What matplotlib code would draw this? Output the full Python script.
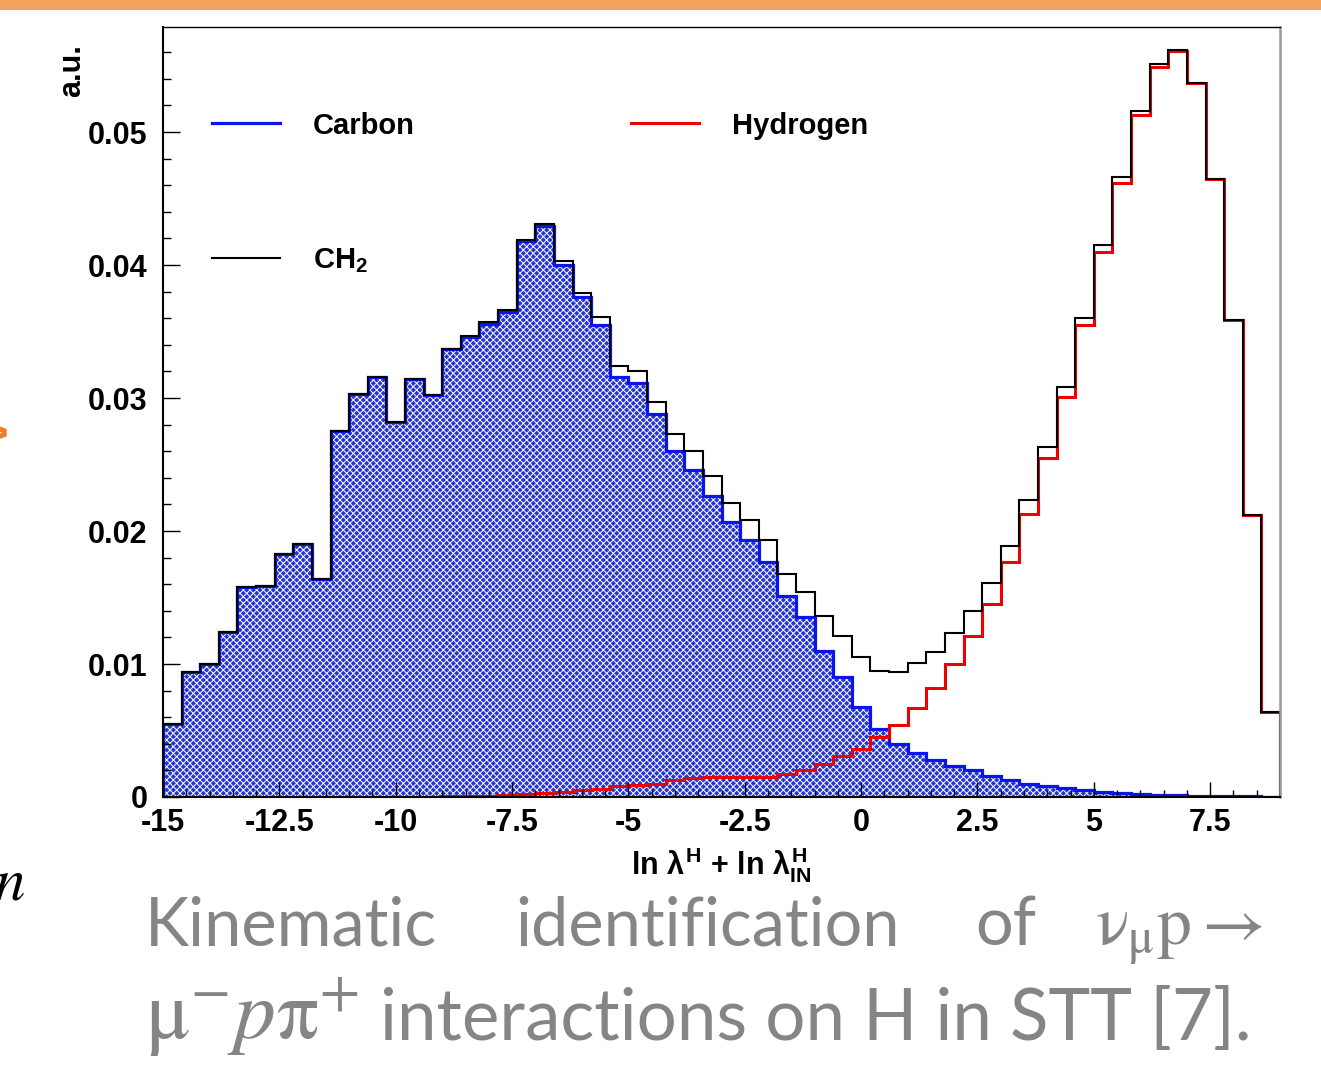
import matplotlib; matplotlib.use("Agg")
import matplotlib.pyplot as plt
import numpy as np
from matplotlib.lines import Line2D
from matplotlib.patches import Rectangle
from matplotlib.ticker import MultipleLocator

plt.rcParams["font.family"] = ["Liberation Sans", "DejaVu Sans"]
plt.rcParams["mathtext.fontset"] = "custom"
plt.rcParams["mathtext.rm"] = "Liberation Sans:bold"
plt.rcParams["mathtext.it"] = "Liberation Sans:bold"
plt.rcParams["mathtext.bf"] = "Liberation Sans:bold"
plt.rcParams["hatch.linewidth"] = 0.7

# 60 bins of width 0.4 from -15 to 9
edges = np.linspace(-15, 9, 61)

carbon = [
    0.0055, 0.0094, 0.0100, 0.0124, 0.0158, 0.0159, 0.0183, 0.0190, 0.0164, 0.0275,
    0.0303, 0.0316, 0.0282, 0.0314, 0.0302, 0.0337, 0.0346, 0.0356, 0.0365, 0.0418,
    0.0429, 0.0400, 0.0376, 0.0355, 0.0316, 0.0311, 0.0288, 0.0260, 0.0246, 0.0226,
    0.0207, 0.0193, 0.0177, 0.0151, 0.0135, 0.0110, 0.0090, 0.0068, 0.0051, 0.0040,
    0.0033, 0.0028, 0.0023, 0.0020, 0.0016, 0.0013, 0.0010, 0.0008, 0.00065, 0.00053,
    0.0004, 0.00033, 0.00025, 0.00018, 0.00012, 0.0001, 0.00008, 0.00006, 0.00004, 0.00003]

hydrogen = [
    0, 0, 0, 0, 0, 0, 0, 0, 0, 0,
    0, 0, 0, 0.00002, 0.00003, 0.00005, 0.00007, 0.0001, 0.00015, 0.0002,
    0.0003, 0.0004, 0.0005, 0.0006, 0.0008, 0.0009, 0.0010, 0.0013, 0.0014, 0.0015,
    0.0015, 0.0015, 0.0015, 0.0017, 0.0020, 0.0025, 0.0031, 0.0036, 0.0045, 0.0054,
    0.0067, 0.0082, 0.0100, 0.0121, 0.0145, 0.0177, 0.0213, 0.0255, 0.0301, 0.0355,
    0.0410, 0.0462, 0.0513, 0.0549, 0.0561, 0.0537, 0.0465, 0.0359, 0.0212, 0.0064]

ch2 = [
    0.0055, 0.0094, 0.0100, 0.0124, 0.0158, 0.0159, 0.0183, 0.0190, 0.0164, 0.0275,
    0.0303, 0.0316, 0.0282, 0.0314, 0.0302, 0.0337, 0.0347, 0.0357, 0.0366, 0.0419,
    0.0431, 0.0403, 0.0379, 0.0361, 0.0324, 0.0320, 0.0297, 0.0273, 0.0260, 0.0241,
    0.0221, 0.0208, 0.0193, 0.0168, 0.0154, 0.0136, 0.0121, 0.0105, 0.0095, 0.0094,
    0.0101, 0.0109, 0.0123, 0.0140, 0.0161, 0.0189, 0.0223, 0.0263, 0.0308, 0.0360,
    0.0415, 0.0466, 0.0516, 0.0551, 0.0562, 0.0537, 0.0465, 0.0359, 0.0212, 0.0064]

xticks = [-15, -12.5, -10, -7.5, -5, -2.5, 0, 2.5, 5, 7.5]
xlabels = ["-15", "-12.5", "-10", "-7.5", "-5", "-2.5", "0", "2.5", "5", "7.5"]
yticks = [0, 0.01, 0.02, 0.03, 0.04, 0.05]
ylabels = ["0", "0.01", "0.02", "0.03", "0.04", "0.05"]

BLUE, RED, GRAY = "#0a14ee", "#ee0000", "#858585"

W, H = 1321, 1070
fig = plt.figure(figsize=(W/100, H/100), dpi=100)
ax = fig.add_axes([163/W, 1-797/H, 1117/W, 770/H])

# carbon: blue pattern fill + blue outline, then hydrogen, CH2 on top
ax.stairs(carbon, edges, fill=True, facecolor="#2535d4", edgecolor="white",
          hatch="xxxxx", linewidth=0)
ax.stairs(carbon, edges, color=BLUE, linewidth=2.3)
ax.stairs(hydrogen, edges, color=RED, linewidth=2.2)
ax.stairs(ch2, edges, color="black", linewidth=1.5)

ax.set_xlim(-15, 9); ax.set_ylim(0, 0.0579)
ax.set_xticks(xticks); ax.set_xticklabels(xlabels, fontsize=22, fontweight="bold")
ax.set_yticks(yticks); ax.set_yticklabels(ylabels, fontsize=22, fontweight="bold")
ax.xaxis.set_minor_locator(MultipleLocator(0.5))
ax.yaxis.set_minor_locator(MultipleLocator(0.002))
ax.tick_params(which="both", direction="in", top=False, right=False, width=1)
ax.tick_params(axis="x", which="major", length=11, pad=8)
ax.tick_params(axis="x", which="minor", length=5)
ax.tick_params(axis="y", which="major", length=12, pad=11)
ax.tick_params(axis="y", which="minor", length=6)
for s in ("left", "bottom"): ax.spines[s].set_linewidth(1.5)
ax.spines["top"].set_linewidth(1.0)
ax.spines["right"].set_color("#9a9a9a"); ax.spines["right"].set_linewidth(1.8)

ax.set_xlabel(r"ln $\lambda^{H}$ + ln $\lambda^{H}_{IN}$", fontsize=22, fontweight="bold")
ax.xaxis.set_label_coords(0.5, -0.062)
ax.text(-0.0815, 0.944, "a.u.", transform=ax.transAxes, rotation=90,
        ha="center", va="center", fontsize=22, fontweight="bold")

handles = [Line2D([], [], color=BLUE, lw=2.3), Line2D([], [], color="black", lw=1.5),
           Line2D([], [], color=RED, lw=2.2)]
ax.legend(handles, ["Carbon", "CH$_{2}$", "Hydrogen"], ncol=2, loc="upper left",
          bbox_to_anchor=(0.044, 0.89), frameon=False, prop={"weight": "bold", "size": 21},
          handlelength=2.33, handletextpad=1.13, columnspacing=7.4, labelspacing=3.65,
          borderpad=0, borderaxespad=0)

# slide decoration around the figure
fig.patches.append(Rectangle((0, 1-10/H), 1, 10/H, transform=fig.transFigure,
                             facecolor="#F2A25A", edgecolor="none"))
fig.text(9/W, 1-437/H, ">", ha="right", va="center", fontsize=34,
         fontweight="bold", color="#F07E26")
fig.text(-6/W, 1-900/H, r"$n$", math_fontfamily="stix", fontsize=44, va="baseline")

cap = dict(fontsize=48, color=GRAY, family="Lato", va="baseline")
fig.text(145/W, 1-945/H, "Kinematic", **cap)
fig.text(515/W, 1-945/H, "identification", **cap)
fig.text(975/W, 1-945/H, "of", **cap)
fig.text(1095/W, 1-945/H, r"$\mathrm{\nu}_{\mathrm{\mu}}\mathrm{p}\rightarrow$",
         math_fontfamily="stix", fontsize=50, color=GRAY, va="baseline")
fig.text(145/W, 1-1040/H, r"$\mathrm{\mu}^{-}p\mathrm{\pi}^{+}$", math_fontfamily="stix",
         fontsize=60, color=GRAY, va="baseline")
fig.text(380/W, 1-1040/H, "interactions on H in STT [7].",
         fontsize=51, color=GRAY, family="Lato", va="baseline")

fig.savefig("out.png", dpi=100)
